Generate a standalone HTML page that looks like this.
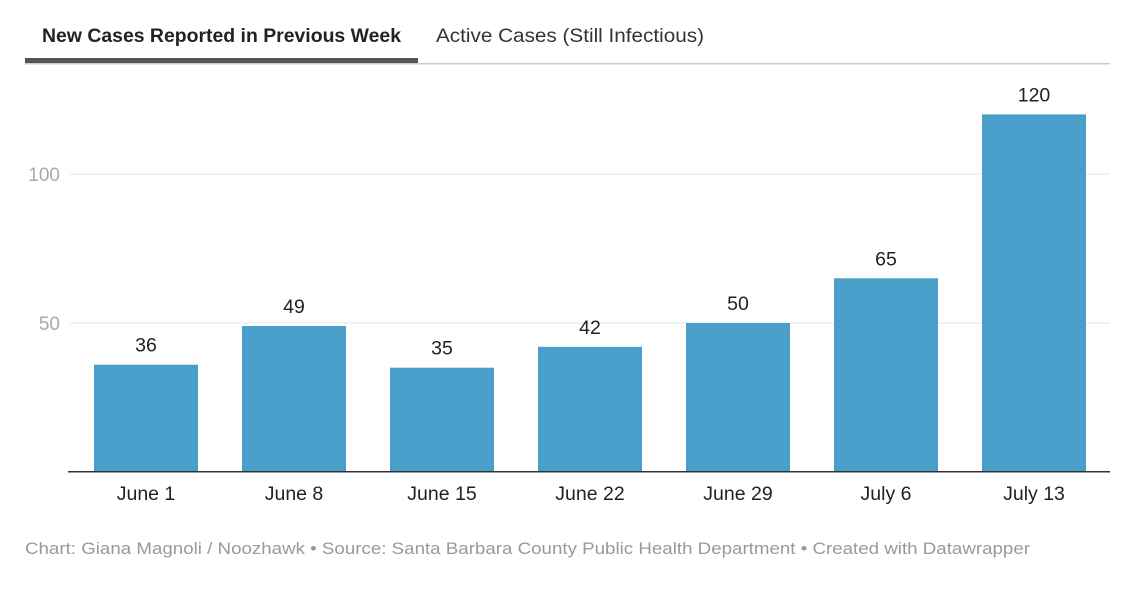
<!DOCTYPE html>
<html><head><meta charset="utf-8"><style>
body{margin:0;background:#fff;width:1136px;height:590px;overflow:hidden;font-family:"Liberation Sans",sans-serif;}
</style></head><body>
<svg width="1136" height="590">
<g>
<text x="42" y="42" font-size="19" font-weight="bold" fill="#222" textLength="359" lengthAdjust="spacingAndGlyphs">New Cases Reported in Previous Week</text>
<text x="436" y="42" font-size="19.5" fill="#333" textLength="268" lengthAdjust="spacingAndGlyphs">Active Cases (Still Infectious)</text>
<rect x="25" y="63" width="1085" height="1.5" fill="#ccc"/>
<rect x="25" y="58" width="393" height="5" fill="#555"/>
</g>
<g id="grid"></g>
<g id="bars"></g>
<rect x="68" y="471" width="1042" height="1.5" fill="#333"/>
<text x="25" y="554" font-size="17" fill="#999" textLength="1005" lengthAdjust="spacingAndGlyphs">Chart: Giana Magnoli / Noozhawk • Source: Santa Barbara County Public Health Department • Created with Datawrapper</text>
</svg>
<script>
const categories=["June 1","June 8","June 15","June 22","June 29","July 6","July 13"];
const values=[36,49,35,42,50,65,120];
const ticks=[50,100];
const NS="http://www.w3.org/2000/svg";
const y0=472, pxPerUnit=(472-174)/100;
const y=v=>y0-v*pxPerUnit;
const x=i=>94+i*148;
const bw=104;
const grid=document.getElementById('grid'), bars=document.getElementById('bars');
function mk(tag,attrs,parent){const e=document.createElementNS(NS,tag);for(const k in attrs)e.setAttribute(k,attrs[k]);parent.appendChild(e);return e;}
ticks.forEach(t=>{
  const l=mk('line',{x1:70,x2:1110,y1:y(t),y2:y(t),stroke:'#e3e3e3','stroke-width':1},grid);
  
  
  const tx=mk('text',{x:60,y:y(t)+7,'font-size':19,fill:'#aaa','text-anchor':'end'},grid);
  tx.textContent=t;
  
  
});
categories.forEach((c,i)=>{
  const r=mk('rect',{x:x(i),y:y(values[i]),width:bw,height:y0-y(values[i]),fill:'#4a9fca'},bars);
  
  
  const v=mk('text',{x:x(i)+bw/2,y:y(values[i])-13,'font-size':19.5,fill:'#222','text-anchor':'middle'},bars);
  v.textContent=values[i];
  
  
  const l=mk('text',{x:x(i)+bw/2,y:500,'font-size':19.5,fill:'#222','text-anchor':'middle'},bars);
  l.textContent=c;
  
  
});
</script>
</body></html>
